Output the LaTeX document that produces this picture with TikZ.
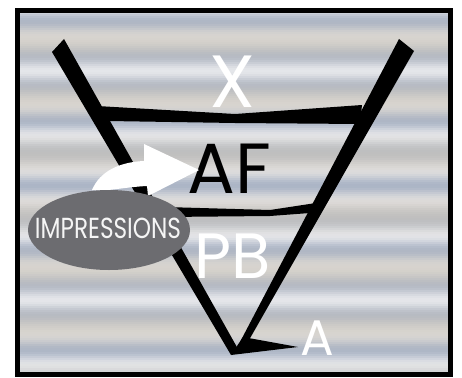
\documentclass[tikz,border=0pt]{standalone}
\usepackage{fontspec}
\usetikzlibrary{shapes.geometric}
\setmainfont{Poppins}
\definecolor{bglight}{RGB}{232,233,236}
\definecolor{bgblue}{RGB}{168,178,196}
\definecolor{bgbeige}{RGB}{205,198,186}
\definecolor{ellgray}{RGB}{108,108,112}
\definecolor{txtlight}{RGB}{245,245,245}
\tikzset{
  bar/.style={fill=black},
  lbl/.style={inner sep=0pt, anchor=base},
}
\begin{document}
\begin{tikzpicture}[x=1pt,y=-1pt]
\useasboundingbox (0,0) rectangle (462,377);
\fill[white] (0,0) rectangle (462,377);
% striped background
\foreach \yy in {12,14,...,374}{
  \pgfmathtruncatemacro\p{50+45*sin(\yy*11+40)}
  \pgfmathtruncatemacro\q{70+30*sin(\yy*6.3+10)}
  \fill[bglight!\p!bgblue!\q!bgbeige] (19,\yy) rectangle (449,\yy+2.6);
}
% frame
\draw[line width=5pt] (17.5,10.5) rectangle (450.5,374.5);
% funnel lines
\fill[bar] (52,52) -- (64,39) -- (238,349) -- (231,355) -- cycle;
\fill[bar] (399,39) -- (414,51) -- (249,340) -- (240,342) -- cycle;
\fill[bar] (231,355) -- (243,337) -- (298,347) -- cycle;
% bars
\fill[bar] (97,106) -- (235,114) -- (362,105) -- (360,124) -- (235,123) -- (108,121) -- cycle;
\fill[bar] (165,207) -- (270,210) -- (316,203) -- (310,213) -- (270,216) -- (165,217) -- cycle;
% labels
\node[lbl, text=white, font=\fontsize{74}{74}\selectfont] (X) at (232,107) {X};
\node[lbl, text=black, font=\fontsize{71}{71}\selectfont] (AF) at (229.5,193) {AF};
\node[lbl, text=white, font=\fontsize{64}{64}\selectfont] (PB) at (233,278) {PB};
\node[lbl, text=white, font=\fontsize{50}{50}\selectfont] (A) at (317,355) {A};
% white arrow
\fill[white] (92,190) .. controls (100,171) and (120,162) .. (144,161) -- (144,144) -- (199,170) -- (148,196) -- (147,186) .. controls (125,187) and (105,192) .. (92,190) -- cycle;
% impressions ellipse
\node[ellipse, fill=ellgray, minimum width=162pt, minimum height=80pt, inner sep=0pt] (ell) at (109,230) {};
\node[lbl, text=txtlight, font=\fontsize{29}{29}\selectfont] (imp) at (108,238) {\scalebox{0.8}[1]{IMPRESSIONS}};
\end{tikzpicture}
\end{document}
